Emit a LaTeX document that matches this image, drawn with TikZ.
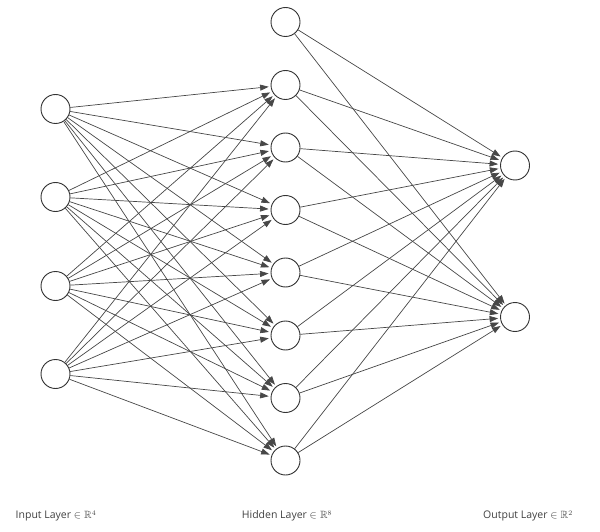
\documentclass[tikz,border=0pt]{standalone}
\usepackage{amssymb}
\usepackage{fontspec}
\setmainfont{Open Sans}
\usetikzlibrary{arrows.meta}

\tikzset{
  neuron/.style={draw=black!80,circle,fill=white,line width=0.9pt,minimum size=29pt,inner sep=0pt},
  weight/.style={draw=black!72,line width=0.7pt,-{Triangle[length=8.5pt,width=6pt]},shorten >=2pt},
  layerlabel/.style={text=black!75,font=\fontsize{10.5}{12}\selectfont}
}

\begin{document}
\begin{tikzpicture}[x=1pt,y=-1pt]
  \useasboundingbox (0,0) rectangle (600,532);

  % input layer
  \node[neuron] (in1) at (55.5,109) {};
  \node[neuron] (in2) at (55.5,197) {};
  \node[neuron] (in3) at (55.5,286) {};
  \node[neuron] (in4) at (55.5,374) {};

  % hidden layer, h0 is the bias unit
  \node[neuron] (h0) at (285.5,22) {};
  \node[neuron] (h1) at (285.5,85) {};
  \node[neuron] (h2) at (285.5,147.5) {};
  \node[neuron] (h3) at (285.5,210) {};
  \node[neuron] (h4) at (285.5,272.5) {};
  \node[neuron] (h5) at (285.5,335.5) {};
  \node[neuron] (h6) at (285.5,398) {};
  \node[neuron] (h7) at (285.5,460.5) {};

  % output layer
  \node[neuron] (out1) at (515,165.5) {};
  \node[neuron] (out2) at (515,317) {};

  % weights
  \foreach \i in {1,...,4}
    \foreach \j in {1,...,7}
      \draw[weight] (in\i) -- (h\j);
  \foreach \j in {0,...,7}
    \foreach \k in {1,2}
      \draw[weight] (h\j) -- (out\k);

  \node[layerlabel] (lin) at (56,516) {Input Layer $\in\mathbb{R}^4$};
  \node[layerlabel] (lhid) at (287,516) {Hidden Layer $\in\mathbb{R}^8$};
  \node[layerlabel] (lout) at (528,516) {Output Layer $\in\mathbb{R}^2$};
\end{tikzpicture}
\end{document}
